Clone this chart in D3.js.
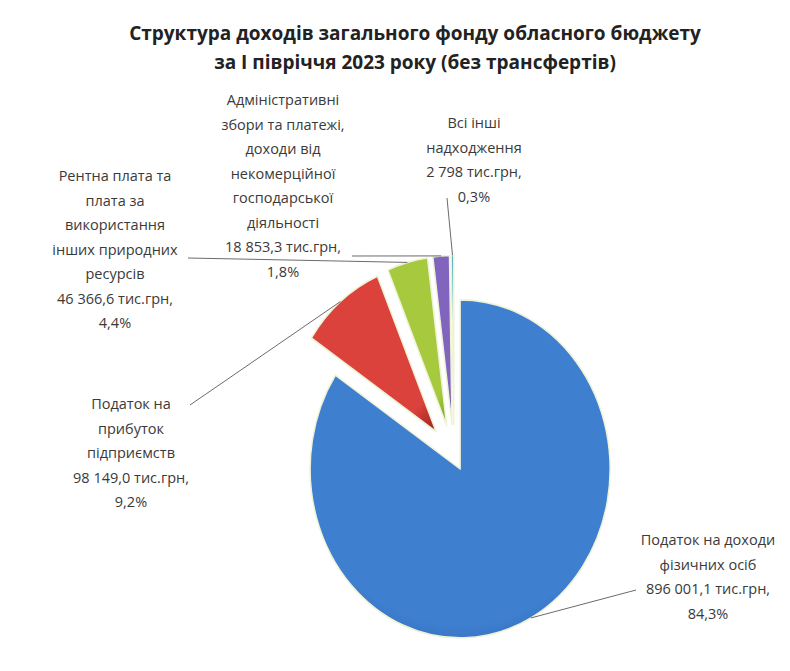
<!DOCTYPE html>
<meta charset="utf-8">
<html>
<head>
<title>Структура доходів</title>
<style>
  body { margin: 0; background: #fff; }
  text { font-family: "Open Sans", "DejaVu Sans", sans-serif; fill: #3a3a3a; }
  .title { font-weight: bold; font-size: 19px; fill: #222; }
  .lbl { font-size: 14.5px; }
  .leader { fill: none; stroke: #6b6b6b; stroke-width: 1; }
</style>
<script src="https://d3js.org/d3.v7.min.js"></script>
</head>
<body>
<svg width="790" height="671"></svg>
<script>
// data
var categories = [
  "Податок на доходи фізичних осіб",
  "Податок на прибуток підприємств",
  "Рентна плата та плата за використання інших природних ресурсів",
  "Адміністративні збори та платежі, доходи від некомерційної господарської діяльності",
  "Всі інші надходження"
];
var values = [896001.1, 98149.0, 46366.6, 18853.3, 2798];
var valueLabels = ["896 001,1 тис.грн,", "98 149,0 тис.грн,", "46 366,6 тис.грн,", "18 853,3 тис.грн,", "2 798 тис.грн,"];
var percentLabels = ["84,3%", "9,2%", "4,4%", "1,8%", "0,3%"];
var nameLines = [
  ["Податок на доходи", "фізичних осіб"],
  ["Податок на", "прибуток", "підприємств"],
  ["Рентна плата та", "плата за", "використання", "інших природних", "ресурсів"],
  ["Адміністративні", "збори та платежі,", "доходи від", "некомерційної", "господарської", "діяльності"],
  ["Всі інші", "надходження"]
];
var titleLines = ["Структура доходів загального фонду обласного бюджету", "за І півріччя 2023 року (без трансфертів)"];

// layout
var cx = 454, cy = 456, R = 150, ky = 1.127;
var explode = [13, 28, 28, 28, 28];
var colors = [["#3f7fd0", "#2a5ea6"], ["#dc423c", "#ad2a26"], ["#a6c93e", "#84a82a"], ["#8064be", "#5a4296"], ["#4bacc6", "#3a8ea6"]];
var labelPos = [
  {x: 708, y: 540, ax: 636, ay: 590},
  {x: 131, y: 404, ax: 190, ay: 405},
  {x: 115, y: 176, ax: 188, ay: 258},
  {x: 283, y: 100, ax: 352, ay: 256},
  {x: 474, y: 123, ax: 447, ay: 198}
];
var lineH = 24.5;

var svg = d3.select("svg");
var defs = svg.append("defs");

colors.forEach(function(c, i) {
  var g = defs.append("radialGradient").attr("id", "grad" + i)
    .attr("cx", "50%").attr("cy", "40%").attr("r", "72%");
  g.append("stop").attr("offset", "0%").attr("stop-color", c[0]);
  g.append("stop").attr("offset", "78%").attr("stop-color", c[0]);
  g.append("stop").attr("offset", "100%").attr("stop-color", c[1]);
});

svg.selectAll(".title").data(titleLines).enter().append("text")
  .attr("class", "title")
  .attr("x", 415)
  .attr("y", function(d, i) { return 40 + i * 29; })
  .attr("text-anchor", "middle")
  .text(function(d) { return d; });

var pie = d3.pie().sort(null).value(function(d) { return d; });
var arcs = pie(values);
var arc = d3.arc().innerRadius(0).outerRadius(R);

function offset(d, i) {
  var m = (d.startAngle + d.endAngle) / 2;
  return [explode[i] * Math.sin(m), -explode[i] * Math.cos(m)];
}

var slices = svg.append("g").selectAll("g").data(arcs).enter().append("g")
  .attr("transform", function(d, i) {
    var o = offset(d, i);
    return "translate(" + cx + "," + cy + ") scale(1," + ky + ") translate(" + o[0] + "," + o[1] + ")";
  });

slices.append("path")
  .attr("d", arc)
  .attr("fill", function(d, i) { return "url(#grad" + i + ")"; })
  .attr("stroke", "#eef3d6")
  .attr("stroke-width", 1.5)
  .attr("stroke-linejoin", "round");

// leader lines
arcs.forEach(function(d, i) {
  var m = (d.startAngle + d.endAngle) / 2;
  var o = offset(d, i);
  var ex = cx + o[0] + R * Math.sin(m);
  var ey = cy + (o[1] - R * Math.cos(m)) * ky;
  var p = labelPos[i];
  svg.append("path").attr("class", "leader")
    .attr("d", d3.line()([[p.ax, p.ay], [ex, ey]]));
});

// labels
nameLines.forEach(function(lines, i) {
  var all = lines.concat([valueLabels[i], percentLabels[i]]);
  var p = labelPos[i];
  svg.append("text").attr("class", "lbl")
    .attr("text-anchor", "middle")
    .selectAll("tspan").data(all).enter().append("tspan")
    .attr("x", p.x)
    .attr("y", function(d, j) { return p.y + 5 + j * lineH; })
    .text(function(d) { return d; });
});
</script>
</body>
</html>
